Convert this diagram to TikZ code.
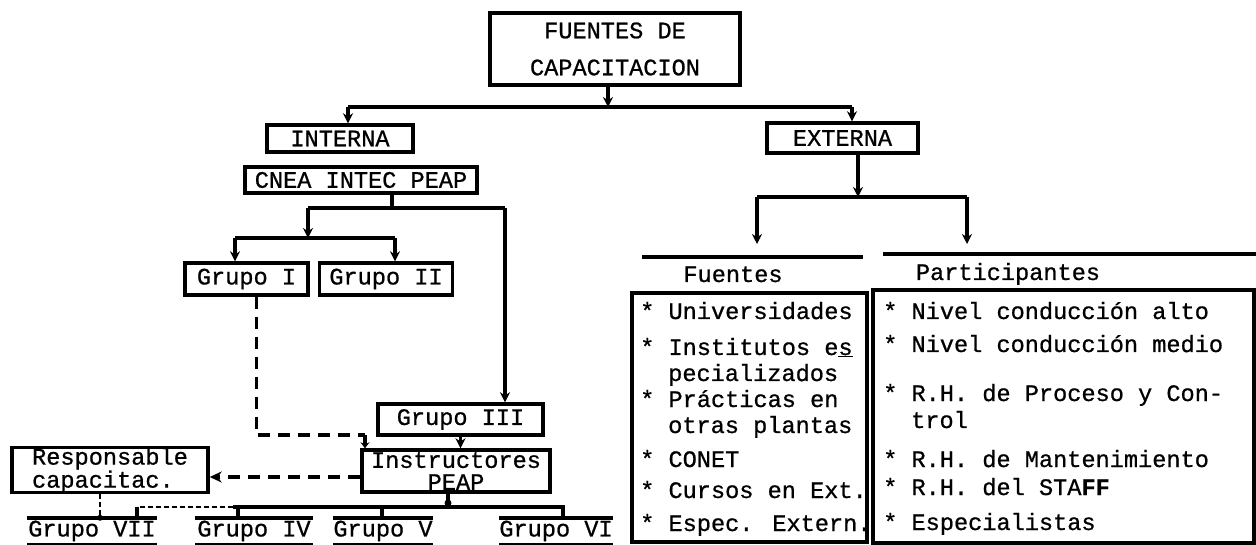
\documentclass[tikz,border=0pt]{standalone}
\usepackage{fontspec}
\setmainfont{Liberation Mono}[FakeBold=0.8]
\usetikzlibrary{arrows.meta}
\begin{document}
\begin{tikzpicture}[x=1pt,y=-1pt,
  font=\fontsize{23.6}{26}\selectfont,
  box/.style={draw,line width=3.4pt,inner sep=0pt,align=center},
  conn/.style={draw,line width=3.4pt},
  hdr/.style={draw,line width=3.6pt},
  arr/.style={draw,line width=3.4pt,-{Stealth[length=10pt,width=10pt]}},
  dsh/.style={draw,line width=3.2pt,dash pattern=on 12pt off 8pt},
  dotl/.style={draw,line width=2.8pt,dash pattern=on 5pt off 3pt},
  item/.style={anchor=base west,inner sep=0pt},
  grp/.style={inner sep=0pt,minimum height=26pt},
]
\useasboundingbox (0,0) rectangle (1256,545);

% ---- boxes
\node[box,minimum width=250pt,minimum height=72pt] (top) at (615,49) {FUENTES DE\\[11pt]CAPACITACION};
\node[box,minimum width=146pt,minimum height=27pt] (int) at (340,138.5) {INTERNA};
\node[box,minimum width=232pt,minimum height=26pt] (cnea) at (361,180) {CNEA INTEC PEAP};
\node[box,minimum width=151pt,minimum height=30pt] (ext) at (842.5,138) {EXTERNA};
\node[box,minimum width=123pt,minimum height=32pt] (g1) at (246.5,279) {Grupo I};
\node[box,minimum width=133pt,minimum height=32pt] (g2) at (386,279) {Grupo II};
\node[box,minimum width=165pt,minimum height=31pt] (g3) at (460.5,419.5) {Grupo III};
\node[box,minimum width=188pt,minimum height=42pt] (instr) at (456,471) {Instructores\\[-4pt]PEAP};
\node[box,minimum width=196pt,minimum height=36pt,align=left] (resp) at (110,470) {Responsable\\[-3pt]capacitac.};

\node[grp,minimum width=130pt] (g7) at (92,531) {Grupo VII};
\node[grp,minimum width=118pt] (g4) at (254,531) {Grupo IV};
\node[grp,minimum width=100pt] (g5) at (383,531) {Grupo V};
\node[grp,minimum width=113pt] (g6) at (556,531) {Grupo VI};
\foreach \n in {g4,g5,g6,g7}
  \path[conn] (\n.north west) -- (\n.north east) (\n.south west) -- (\n.south east);

% ---- external lists
\node[box,minimum width=235pt,minimum height=249pt] (fbox) at (749.5,417.5) {};
\node[box,minimum width=381pt,minimum height=253pt] (pbox) at (1063.5,416.5) {};
\node[anchor=base,inner sep=0pt] (fh) at (733,282) {Fuentes};
\node[anchor=base,inner sep=0pt] (ph) at (1008,280) {Participantes};
\coordinate (fl1) at (642,257); \coordinate (fl2) at (863,257);
\coordinate (pl1) at (883,254); \coordinate (pl2) at (1256,254);
\path[hdr] (fl1) -- (fl2);
\path[hdr] (pl1) -- (pl2);

\node[item] (f1) at (640,319) {* Universidades};
\node[item] (f2) at (640,355) {* Institutos e\underline{s}};
\node[item] (f2b) at (668,381) {pecializados};
\node[item] (f3) at (640,407) {* Prácticas en};
\node[item] (f3b) at (668,433) {otras plantas};
\node[item] (f4) at (640,467) {* CONET};
\node[item] (f5) at (640,498) {* Cursos en Ext.};
\node[item] (f6) at (640,531) {* Espec. Extern.};

\node[item] (p1) at (883,319) {* Nivel conducción alto};
\node[item] (p2) at (883,352) {* Nivel conducción medio};
\node[item] (p3) at (883,401) {* R.H. de Proceso y Con-};
\node[item] (p3b) at (911,428) {trol};
\node[item] (p4) at (883,467) {* R.H. de Mantenimiento};
\node[item] (p5) at (883,495) {* R.H. del STA{\bfseries FF}};
\node[item] (p6) at (883,530) {* Especialistas};

% ---- top connectors
\coordinate (tj) at (608,107);
\coordinate (tl) at (348,107);
\coordinate (tr) at (852,107);
\path[arr] (top.south -| tj) -- (tj);
\path[conn] (tl) -- (tr);
\path[arr] (tl) -- (tl |- int.north);
\path[arr] (tr) -- (tr |- ext.north);

% ---- external connectors
\coordinate (e1) at (858,197);
\coordinate (e2) at (757,197);
\coordinate (e3) at (967,197);
\path[arr] (ext.south -| e1) -- (e1);
\path[conn] (e2) -- (e3);
\path[arr,shorten >=13pt] (e2) -- (e2 |- fl1);
\path[arr,shorten >=10pt] (e3) -- (e3 |- pl1);

% ---- internal connectors
\coordinate (c0) at (392,208);
\coordinate (cl) at (308,208);
\coordinate (cr) at (505,208);
\path[conn] (cnea.south -| c0) -- (c0);
\path[conn] (cl) -- (cr);
\path[arr] (cr) -- (cr |- g3.north);
\coordinate (gl) at (235,238);
\coordinate (gr) at (395,238);
\path[arr] (cl) -- (cl |- gl);
\path[conn] (gl) -- (gr);
\path[arr] (gl) -- (gl |- g1.north);
\path[arr] (gr) -- (gr |- g2.north);

% dashed from Grupo I
\coordinate (d1) at (365,435);
\path[dsh] ([xshift=10pt]g1.south) |- (d1);
\path[draw,line width=3.2pt,-{Stealth[length=6pt,width=9pt]}] (d1) -- (d1 |- instr.north);

\path[arr] (g3.south) -- (g3.south |- instr.north);

% dashed to Responsable
\path[dsh,-{Stealth[length=12pt,width=11pt]}] ([yshift=-6pt]instr.west) -- ([yshift=-6pt]instr.west -| resp.east);

% bottom distribution
\coordinate (hb) at (448,507);
\coordinate (hl) at (233,507);
\coordinate (hr) at (563,507);
\coordinate (t4) at (238,507);
\coordinate (t5) at (382,507);
\coordinate (t7) at (137,507);
\path[conn] (hb |- instr.south) -- (hb);
\fill (hb) ++(0,-4) circle (3.5pt);
\path[conn] (hl) -- (hr) -- (hr |- g6.north);
\path[conn] (t4) -- (t4 |- g4.north);
\path[conn] (t5) -- (t5 |- g5.north);
\path[dotl] (hl) -- (t7);
\path[conn] (t7) -- (t7 |- g7.north);
\path[dotl] ([xshift=-10pt]resp.south) -- ([xshift=-10pt]resp.south |- g7.north);
\fill ([xshift=-10pt]resp.south |- g7.north) circle (3pt);
\end{tikzpicture}
\end{document}
